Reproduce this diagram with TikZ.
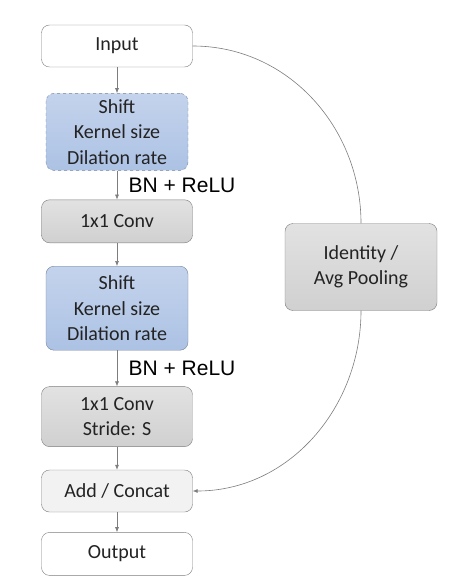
\documentclass[tikz,border=0pt]{standalone}
\usepackage{fontspec}
\setmainfont{Carlito}
\newfontfamily\arialfont{Liberation Sans}
\usetikzlibrary{shapes, arrows.meta, positioning}
\definecolor{edgegray}{RGB}{125,125,125}
\definecolor{shifttop}{RGB}{196,211,236}
\definecolor{shiftbot}{RGB}{172,194,228}
\definecolor{shiftline}{RGB}{115,130,155}
\definecolor{convtop}{RGB}{226,226,226}
\definecolor{convbot}{RGB}{208,208,208}
\definecolor{addfill}{RGB}{242,242,242}
\definecolor{txtgray}{RGB}{35,35,35}
\tikzstyle{block}=[draw=edgegray,fill=white,rectangle,rounded corners=8pt,minimum width=151pt,minimum height=43pt,inner sep=2pt,align=center,text=txtgray,font=\fontsize{20}{25.5}\selectfont]
\tikzstyle{shiftblock}=[block,draw=shiftline,top color=shifttop,bottom color=shiftbot,minimum width=142pt]
\tikzstyle{convblock}=[block,top color=convtop,bottom color=convbot]
\tikzstyle{link}=[draw=edgegray,line width=0.6pt]
\tikzstyle{bnlabel}=[font=\arialfont\fontsize{21}{21}\selectfont,text=black]

\begin{document}
\begin{tikzpicture}[x=1pt,y=1pt,>={Latex[length=5pt,width=4pt]}]
      \useasboundingbox (0,0) rectangle (467,-577);
      \node[block, minimum height=42pt] (in) at (117,-46) {Input};
      \node[shiftblock, dashed, minimum height=77pt, below=26pt of in] (sh1) {Shift\\Kernel size\\Dilation rate};
      \node[convblock, below=29pt of sh1] (conv1) {1x1 Conv};
      \node[shiftblock, minimum height=84pt, below=23pt of conv1] (sh2) {Shift\\Kernel size\\Dilation rate};
      \node[convblock, minimum height=60pt, below=36pt of sh2] (conv2) {1x1 Conv\\Stride: S};
      \node[block, fill=addfill, minimum height=42pt, below=23pt of conv2] (add) {Add / Concat};
      \node[block, below=20pt of add] (out) {Output};
      \node[convblock, minimum width=152pt, minimum height=87pt] (id) at (361,-267) {Identity /\\Avg Pooling};
      \draw[link,->] (in) -- (sh1);
      \draw[link,->] (sh1) -- node[bnlabel, right=8pt] {BN + ReLU} (conv1);
      \draw[link,->] (conv1) -- (sh2);
      \draw[link,->] (sh2) -- node[bnlabel, right=8pt] {BN + ReLU} (conv2);
      \draw[link,->] (conv2) -- (add);
      \draw[link,->] (add) -- (out);
      \draw[link] (in.east) to[out=0, in=90] (id.north);
      \draw[link,->] (id.south) to[out=-90, in=0] (add.east);
    \end{tikzpicture}
\end{document}
